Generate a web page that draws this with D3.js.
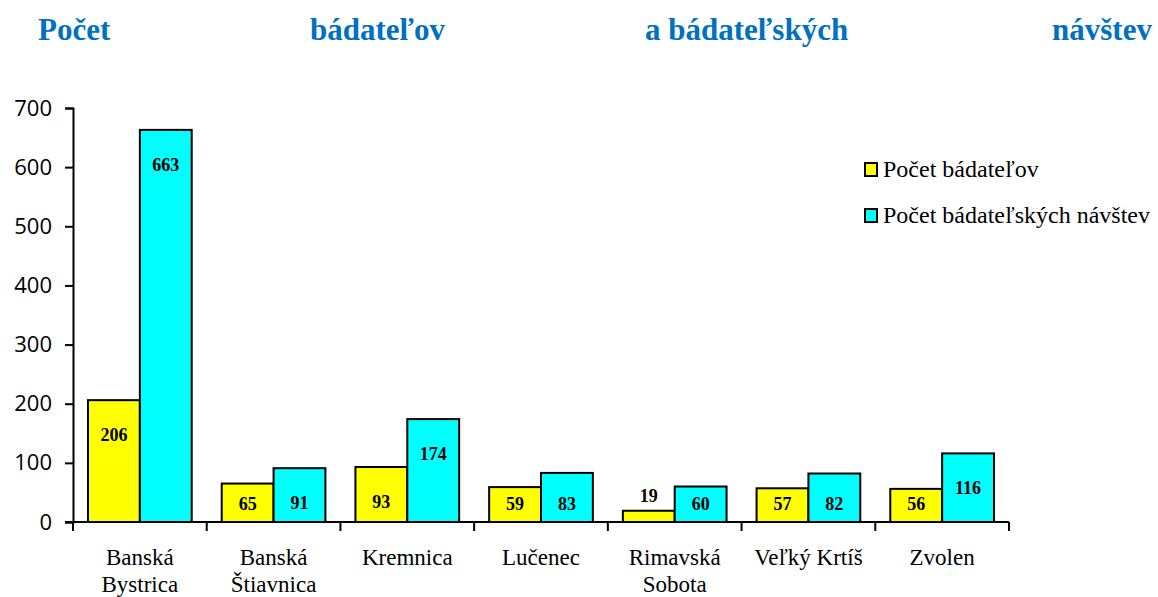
<!DOCTYPE html>
<html>
<head>
<meta charset="utf-8" />
<script src="https://d3js.org/d3.v7.min.js"></script>
<style>
  body { margin: 0; background: #fff; }
  .title { font-family: "Liberation Serif", serif; font-weight: bold; font-size: 31px; fill: #0070C0; }
  .ytick text { font-family: "Open Sans", "DejaVu Sans", sans-serif; font-size: 22px; fill: #000; }
  .xlab { font-family: "Liberation Serif", serif; font-size: 23px; fill: #000; }
  .val { font-family: "Liberation Serif", serif; font-weight: bold; font-size: 18px; fill: #000; }
  .leg { font-family: "Liberation Serif", serif; font-size: 24px; fill: #000; }
</style>
</head>
<body>
<div id="chart"></div>
<script>
// data
var towns = [["Banská", "Bystrica"], ["Banská", "Štiavnica"], ["Kremnica"], ["Lučenec"],
             ["Rimavská", "Sobota"], ["Veľký Krtíš"], ["Zvolen"]];
var researchers = [206, 65, 93, 59, 19, 57, 56];
var visits = [663, 91, 174, 83, 60, 82, 116];
var seriesNames = ["Počet bádateľov", "Počet bádateľských návštev"];
var seriesColors = ["#FFFF00", "#00FFFF"];
var yTicks = [0, 100, 200, 300, 400, 500, 600, 700];
var titleWords = [["Počet", 38], ["bádateľov", 310], ["a bádateľských", 645], ["návštev", 1052]];

var W = 1158, H = 597;
var m = {left: 73, right: 1009, top: 108, bottom: 522};

var svg = d3.select("#chart").append("svg")
  .attr("width", W).attr("height", H);

// title (justified words)
svg.selectAll("text.title").data(titleWords).enter().append("text")
  .attr("class", "title")
  .attr("x", function(d) { return d[1]; })
  .attr("y", 40)
  .text(function(d) { return d[0]; });

var idx = d3.range(towns.length);
var x = d3.scaleBand().domain(idx).range([m.left, m.right]);
var inner = d3.scaleBand().domain([0, 1]).range([15, x.bandwidth() - 15]);
var y = d3.scaleLinear().domain([0, 700]).range([m.bottom, m.top]);

// y axis
var yAxis = svg.append("g").attr("class", "ytick")
  .attr("transform", "translate(" + m.left + ",0)")
  .call(d3.axisLeft(y).tickValues(yTicks).tickSize(8).tickPadding(13).tickFormat(d3.format("d")));
yAxis.select(".domain").attr("stroke", "#000").attr("stroke-width", 2);
yAxis.selectAll(".tick line").attr("stroke", "#000").attr("stroke-width", 2);

// bars
var rows = idx.map(function(i) { return [researchers[i], visits[i]]; });
var groups = svg.selectAll("g.grp").data(rows).enter().append("g")
  .attr("class", "grp")
  .attr("transform", function(d, i) { return "translate(" + x(i) + ",0)"; });

groups.selectAll("rect").data(function(d) { return d; }).enter().append("rect")
  .attr("x", function(d, j) { return inner(j); })
  .attr("y", function(d) { return y(d); })
  .attr("width", inner.bandwidth())
  .attr("height", function(d) { return y(0) - y(d); })
  .attr("fill", function(d, j) { return seriesColors[j]; })
  .attr("stroke", "#000")
  .attr("stroke-width", 2);

groups.selectAll("text.val").data(function(d) { return d; }).enter().append("text")
  .attr("class", "val")
  .attr("text-anchor", "middle")
  .attr("x", function(d, j) { return inner(j) + inner.bandwidth() / 2; })
  .attr("y", function(d) {
    var t = y(d);
    if (y(0) - t < 20) return t - 9;
    return Math.min(t + 41, 510);
  })
  .text(function(d) { return d; });

// x axis
var xAxis = svg.append("g")
  .attr("transform", "translate(0," + m.bottom + ")");
xAxis.append("line").attr("x1", m.left - 8).attr("x2", m.right).attr("stroke", "#000").attr("stroke-width", 2);
xAxis.selectAll("line.tk").data(d3.range(towns.length + 1)).enter().append("line")
  .attr("x1", function(i) { return m.left + i * x.bandwidth(); })
  .attr("x2", function(i) { return m.left + i * x.bandwidth(); })
  .attr("y1", 0).attr("y2", 9)
  .attr("stroke", "#000").attr("stroke-width", 2);

svg.selectAll("text.xlab").data(towns).enter().append("text")
  .attr("class", "xlab")
  .attr("text-anchor", "middle")
  .attr("x", function(d, i) { return x(i) + x.bandwidth() / 2; })
  .attr("y", 565)
  .each(function(d) {
    var t = d3.select(this);
    d.forEach(function(line, k) {
      t.append("tspan")
        .attr("x", t.attr("x"))
        .attr("dy", k === 0 ? 0 : 27)
        .text(line);
    });
  });

// legend
var leg = svg.selectAll("g.legend").data(seriesNames).enter().append("g")
  .attr("class", "legend")
  .attr("transform", function(d, i) { return "translate(865," + (163 + i * 46) + ")"; });
leg.append("rect")
  .attr("width", 12).attr("height", 13)
  .attr("fill", function(d, i) { return seriesColors[i]; })
  .attr("stroke", "#000").attr("stroke-width", 2);
leg.append("text")
  .attr("class", "leg")
  .attr("x", 18).attr("y", 14)
  .text(function(d) { return d; });
</script>
</body>
</html>
